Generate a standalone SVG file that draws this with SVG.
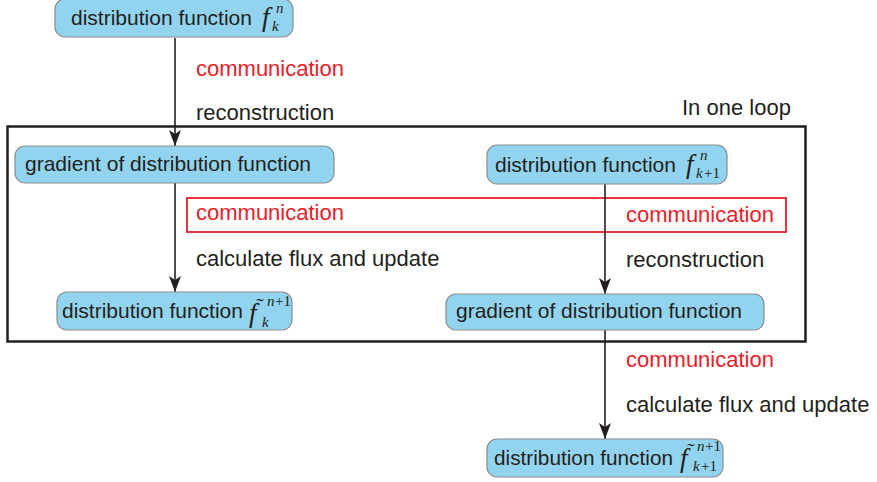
<svg xmlns="http://www.w3.org/2000/svg" width="877" height="482" viewBox="0 0 877 482">
  <defs>
    <marker id="arrow" viewBox="0 0 16 12" refX="16" refY="6" markerWidth="16" markerHeight="12" markerUnits="userSpaceOnUse" orient="auto">
      <path d="M0,0 L16,6 L0,12 L4,6 Z" fill="#231f20"/>
    </marker>
    <style>
      .node rect { fill: #92d4ef; stroke: #8c8c8c; stroke-width: 1.2; }
      .lbl { font-family: "Liberation Sans", Arial, sans-serif; font-size: 22px; fill: #231f20; }
      .nl { font-family: "Liberation Sans", Arial, sans-serif; font-size: 21px; fill: #231f20; }
      .red { fill: #e8202a; }
      .mf { font-family: "Liberation Serif", "Times New Roman", serif; font-style: italic; font-size: 27px; fill: #231f20; }
      .mt { font-family: "Liberation Serif", "Times New Roman", serif; font-size: 22px; fill: #231f20; text-anchor: middle; }
      .ms { font-family: "Liberation Serif", "Times New Roman", serif; font-style: italic; font-size: 15px; fill: #231f20; }
      .mn { font-family: "Liberation Serif", "Times New Roman", serif; font-size: 15px; fill: #231f20; }
      .edge { stroke: #231f20; stroke-width: 1.6; fill: none; }
    </style>
  </defs>
  <rect width="877" height="482" fill="#ffffff"/>

  <!-- loop frame -->
  <g id="loop">
    <rect x="7.5" y="126.5" width="798" height="215" fill="none" stroke="#231f20" stroke-width="2.5"/>
    <text class="lbl" x="682" y="115">In one loop</text>
  </g>

  <!-- communication band -->
  <g id="comm-band">
    <rect x="187" y="198" width="599" height="34" fill="none" stroke="#e8202a" stroke-width="1.8"/>
  </g>

  <!-- connectors -->
  <g id="connectors">
    <line class="edge" x1="175" y1="38" x2="175" y2="146" marker-end="url(#arrow)"/>
    <line class="edge" x1="175" y1="183" x2="175" y2="292" marker-end="url(#arrow)"/>
    <line class="edge" x1="605" y1="184" x2="605" y2="294" marker-end="url(#arrow)"/>
    <line class="edge" x1="605" y1="330" x2="605" y2="439" marker-end="url(#arrow)"/>
  </g>

  <!-- edge labels -->
  <g id="edge-labels">
    <text class="lbl red" x="196" y="76">communication</text>
    <text class="lbl" x="196" y="120">reconstruction</text>
    <text class="lbl red" x="196" y="220">communication</text>
    <text class="lbl" x="196" y="266">calculate flux and update</text>
    <text class="lbl red" x="626" y="222">communication</text>
    <text class="lbl" x="626" y="267">reconstruction</text>
    <text class="lbl red" x="626" y="367">communication</text>
    <text class="lbl" x="626" y="412">calculate flux and update</text>
  </g>

  <!-- nodes -->
  <g id="node-fn-k" class="node">
    <rect x="55" y="-1" width="238" height="38" rx="10"/>
    <text class="nl" x="71" y="25">distribution function</text>
    <text class="mf" x="262" y="26">f</text>
    <text class="ms" x="276" y="13">n</text>
    <text class="ms" x="272" y="31">k</text>
  </g>

  <g id="node-grad-left" class="node">
    <rect x="15" y="146" width="319" height="37" rx="10"/>
    <text class="nl" x="25" y="171">gradient of distribution function</text>
  </g>

  <g id="node-fn-k1" class="node">
    <rect x="487" y="145" width="240" height="39" rx="10"/>
    <text class="nl" x="495" y="172">distribution function</text>
    <text class="mf" x="686" y="173">f</text>
    <text class="ms" x="700" y="160">n</text>
    <text class="ms" x="696" y="178">k</text>
    <text class="mn" x="704" y="178">+1</text>
  </g>

  <g id="node-ftilde-k" class="node">
    <rect x="57" y="292" width="235" height="38" rx="10"/>
    <text class="nl" x="62" y="318">distribution function</text>
    <text class="mf" x="249" y="322">f</text>
    <text class="mt" x="260" y="313">˜</text>
    <text class="ms" x="267" y="306">n</text>
    <text class="mn" x="275" y="306">+1</text>
    <text class="ms" x="262" y="327">k</text>
  </g>

  <g id="node-grad-right" class="node">
    <rect x="446" y="294" width="318" height="36" rx="10"/>
    <text class="nl" x="456" y="318">gradient of distribution function</text>
  </g>

  <g id="node-ftilde-k1" class="node">
    <rect x="487" y="439" width="236" height="38" rx="10"/>
    <text class="nl" x="494" y="465" textLength="179" lengthAdjust="spacingAndGlyphs">distribution function</text>
    <text class="mf" x="680" y="467">f</text>
    <text class="mt" x="691" y="458">˜</text>
    <text class="ms" x="697" y="451">n</text>
    <text class="mn" x="705" y="451">+1</text>
    <text class="ms" x="693" y="471">k</text>
    <text class="mn" x="701" y="471">+1</text>
  </g>
</svg>
